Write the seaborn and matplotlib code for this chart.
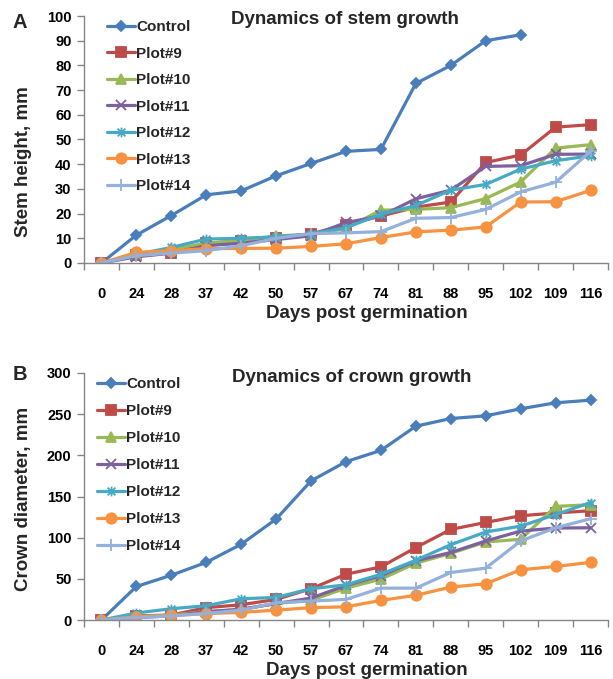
import numpy as np
import pandas as pd
import matplotlib
matplotlib.use("Agg")
import matplotlib.pyplot as plt
from matplotlib.path import Path
import seaborn as sns

# ---- data -------------------------------------------------------------
days = ["0", "24", "28", "37", "42", "50", "57", "67", "74", "81", "88", "95", "102", "109", "116"]
series_names = ["Control", "Plot#9", "Plot#10", "Plot#11", "Plot#12", "Plot#13", "Plot#14"]

# stem height, mm
stem_control = [0, 11.3, 19.2, 27.6, 29.2, 35.3, 40.3, 45.2, 46.0, 72.7, 80.0, 90.0, 92.4, np.nan, np.nan]
stem_plot9 = [0, 3.2, 4.0, 8.0, 9.0, 10.0, 11.8, 15.5, 19.0, 22.6, 24.7, 40.7, 43.7, 55.0, 56.0]
stem_plot10 = [0, 3.5, 5.5, 8.0, 9.0, 11.0, 11.5, 14.0, 21.4, 21.7, 22.4, 26.1, 32.8, 46.5, 47.9]
stem_plot11 = [0, 2.5, 4.0, 7.0, 8.0, 9.5, 11.0, 16.4, 19.0, 26.0, 29.5, 39.1, 39.4, 44.0, 44.1]
stem_plot12 = [0, 3.5, 6.3, 9.7, 10.0, 10.6, 11.8, 14.3, 19.7, 23.3, 29.5, 31.8, 38.0, 41.4, 43.4]
stem_plot13 = [0, 4.3, 5.0, 5.8, 5.9, 6.0, 6.7, 7.8, 10.3, 12.6, 13.3, 14.6, 24.7, 24.8, 29.4]
stem_plot14 = [0, 3.0, 4.0, 5.0, 7.0, 10.0, 11.9, 12.2, 12.7, 18.1, 18.4, 21.7, 28.8, 32.7, 45.2]

# crown diameter, mm
crown_control = [0, 40.7, 54.4, 70.0, 92.0, 122.6, 169.0, 192.3, 206.0, 235.4, 244.7, 248.0, 256.5, 263.8, 267.0]
crown_plot9 = [0, 5.0, 6.0, 15.0, 18.5, 25.0, 38.0, 55.6, 64.5, 88.0, 110.0, 118.5, 126.6, 130.0, 132.7]
crown_plot10 = [0, 4.0, 6.0, 10.0, 13.0, 20.0, 24.0, 38.7, 49.6, 69.0, 81.0, 94.8, 98.0, 138.0, 140.0]
crown_plot11 = [0, 3.0, 5.0, 10.0, 13.0, 20.0, 26.6, 42.0, 53.6, 72.0, 82.0, 96.0, 108.0, 111.7, 112.0]
crown_plot12 = [0, 8.5, 13.7, 17.3, 25.8, 27.4, 38.0, 42.7, 55.6, 72.6, 91.5, 106.9, 114.0, 128.0, 142.7]
crown_plot13 = [0, 4.0, 5.6, 7.7, 9.3, 12.0, 15.0, 16.0, 23.8, 30.0, 40.0, 44.0, 61.0, 65.0, 70.0]
crown_plot14 = [0, 3.0, 5.0, 8.0, 12.0, 21.0, 23.0, 25.0, 38.7, 38.7, 57.7, 63.0, 96.0, 112.0, 123.0]

stem_values = [stem_control, stem_plot9, stem_plot10, stem_plot11, stem_plot12, stem_plot13, stem_plot14]
crown_values = [crown_control, crown_plot9, crown_plot10, crown_plot11, crown_plot12, crown_plot13, crown_plot14]

# ---- styling ----------------------------------------------------------
colors = ["#4A7EBB", "#BE4B48", "#98B954", "#7D60A0", "#46AAC5", "#F69240", "#93B1DA"]

asterisk = Path(
    [(-1, -1), (1, 1), (-1, 1), (1, -1), (0, -1.25), (0, 1.25)],
    [Path.MOVETO, Path.LINETO, Path.MOVETO, Path.LINETO, Path.MOVETO, Path.LINETO],
)
markers = ["D", "s", "^", "x", asterisk, "o", "+"]
msizes = [5.5, 6.5, 7, 7, 7, 7.5, 8]

sns.set_theme(style="white")
plt.rcParams["font.family"] = ["Liberation Sans", "DejaVu Sans"]
plt.rcParams["font.weight"] = "bold"
plt.rcParams["axes.labelweight"] = "bold"

fig = plt.figure(figsize=(6.13, 6.79), dpi=100)
W, H = 613, 679


def ax_rect(left, right, top, bottom):
    return [left / W, 1 - bottom / H, (right - left) / W, (bottom - top) / H]


panels = [
    dict(rect=ax_rect(84, 608, 16, 263), values=stem_values, ymax=100, ystep=10,
         ylabel="Stem height, mm", ylab_y=0.41, title="Dynamics of stem growth",
         title_xy=(345, 20), letter="A", letter_xy=(20, 22), leg_xy=(107, 20), leg_sp=0.82),
    dict(rect=ax_rect(84, 608, 373, 620), values=crown_values, ymax=300, ystep=50,
         ylabel="Crown diameter, mm", ylab_y=0.49, title="Dynamics of crown growth",
         title_xy=(352, 378), letter="B", letter_xy=(20, 375), leg_xy=(97, 377), leg_sp=0.85),
]

grey = "#868686"
pos = np.arange(len(days))

for p in panels:
    ax = fig.add_axes(p["rect"])
    for name, vals, c, m, ms in zip(series_names, p["values"], colors, markers, msizes):
        df = pd.DataFrame({"pos": pos, "value": vals}).dropna()
        sns.lineplot(data=df, x="pos", y="value", ax=ax, color=c, linewidth=2.3,
                     marker=m, markersize=ms, markeredgecolor=c, markerfacecolor=c,
                     markeredgewidth=1.3, label=name, sort=False)

    ax.set_xlim(-0.5, len(days) - 0.5)
    ax.set_ylim(0, p["ymax"])
    ax.set_yticks(np.arange(0, p["ymax"] + 1, p["ystep"]))
    ax.set_xticks(pos)
    ax.set_xticklabels(days)
    ax.set_xticks(np.arange(-0.5, len(days)), minor=True)
    ax.tick_params(axis="x", which="major", length=0, pad=17, labelsize=10.5, colors="black")
    ax.tick_params(axis="x", which="minor", length=5, width=1, color=grey, direction="out", bottom=True)
    ax.tick_params(axis="y", which="major", length=5, width=1, color=grey, direction="out",
                   left=True, pad=4, labelsize=10.5, labelcolor="black")
    for lab in ax.get_xticklabels() + ax.get_yticklabels():
        lab.set_fontweight("bold")

    for side in ["top", "right"]:
        ax.spines[side].set_visible(False)
    for side in ["left", "bottom"]:
        ax.spines[side].set_color(grey)
        ax.spines[side].set_linewidth(1)

    ax.set_xlabel("Days post germination", fontsize=13.5, fontweight="bold")
    ax.xaxis.set_label_coords(0.54, -0.17)
    ax.set_ylabel(p["ylabel"], fontsize=13.5, fontweight="bold")
    ax.yaxis.set_label_coords(-0.1, p["ylab_y"])

    fig.text(p["title_xy"][0] / W, 1 - p["title_xy"][1] / H, p["title"],
             ha="center", va="center", fontsize=13.5, fontweight="bold")
    fig.text(p["letter_xy"][0] / W, 1 - p["letter_xy"][1] / H, p["letter"],
             ha="center", va="center", fontsize=14.5, fontweight="bold")

    ax.legend(loc="upper left", bbox_to_anchor=(p["leg_xy"][0] / W, 1 - p["leg_xy"][1] / H),
              bbox_transform=fig.transFigure, frameon=False, borderpad=0, borderaxespad=0,
              handlelength=1.8, handletextpad=0.1, labelspacing=p["leg_sp"],
              prop={"weight": "bold", "size": 11})

fig.savefig("out.png", dpi=100)
